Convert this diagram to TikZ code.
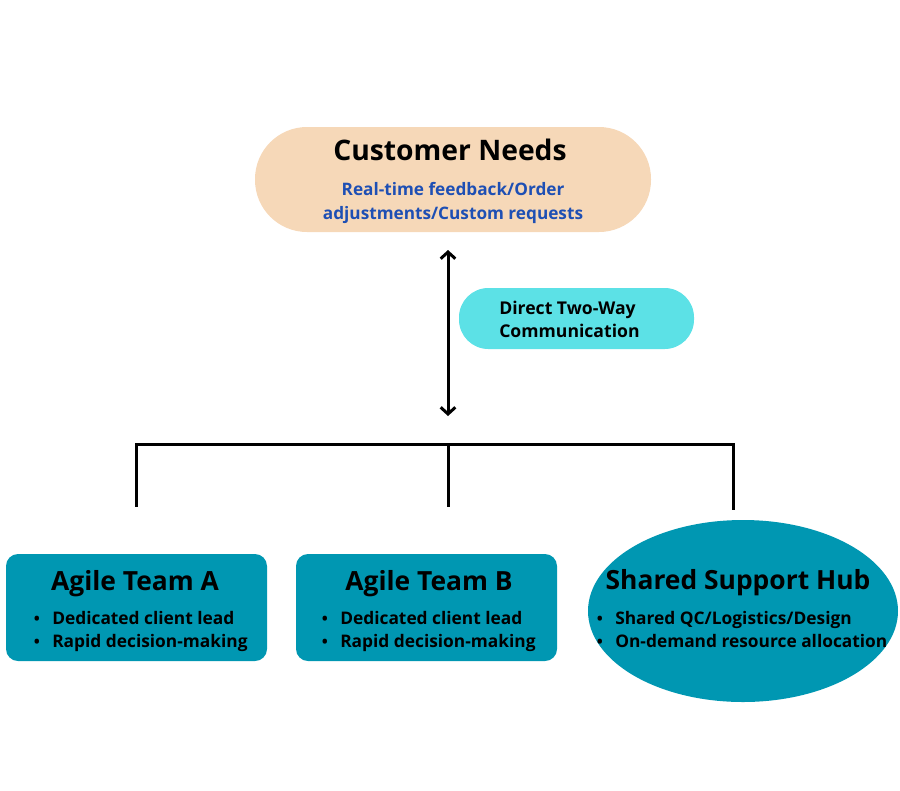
\documentclass[tikz,border=0pt]{standalone}
\usepackage{fontspec}
\setmainfont{Open Sans}
\usetikzlibrary{arrows.meta,shapes.geometric}
\definecolor{peach}{HTML}{F6D8B8}
\definecolor{subblue}{HTML}{1E4FB4}
\definecolor{commcyan}{HTML}{5CE1E6}
\definecolor{teal}{HTML}{0097B2}
\tikzset{
  pill/.style={draw=none, rectangle, inner sep=0pt},
  teambox/.style={draw=none, fill=teal, rectangle, rounded corners=9pt, minimum width=195.75pt, minimum height=80.25pt, inner sep=0pt},
  hubshape/.style={draw=none, fill=teal, ellipse, minimum width=232.5pt, minimum height=136.5pt, inner sep=0pt},
  title/.style={font=\bfseries\fontsize{21.2}{24}\selectfont, inner sep=0pt},
  subtxt/.style={font=\bfseries\fontsize{12.9}{18}\selectfont, text=subblue, align=center, inner sep=0pt},
  commtxt/.style={font=\bfseries\fontsize{13.2}{17.25}\selectfont, align=left, inner sep=0pt},
  teamtitle/.style={font=\bfseries\fontsize{19.8}{22}\selectfont, inner sep=0pt},
  itemtxt/.style={font=\bfseries\fontsize{13}{15}\selectfont, anchor=base west, inner sep=0pt},
  bul/.style={font=\bfseries\fontsize{12}{15}\selectfont, anchor=base, inner sep=0pt},
  link/.style={line width=2.25pt, black},
  twoway/.style={line width=2.25pt, black, {Straight Barb[length=5pt,width=11pt]}-{Straight Barb[length=5pt,width=11pt]}}
}
\begin{document}
\begin{tikzpicture}[x=0.75pt,y=-0.75pt]
\useasboundingbox (0,0) rectangle (900,790);
% Customer Needs
\node[pill, fill=peach, minimum width=297pt, minimum height=78.75pt, rounded corners=39pt] (cn) at (453,179.5) {};
\node[title] (cntitle) at (450,150) {Customer Needs};
\node[subtxt] (cnsub) at (453,203) {Real-time feedback/Order\\adjustments/Custom requests};
% Communication
\node[pill, fill=commcyan, minimum width=176.25pt, minimum height=45.75pt, rounded corners=22pt] (comm) at (576.5,318.5) {};
\node[commtxt, anchor=west] (commtext) at (499,319) {Direct Two-Way\\Communication};
% arrow
\coordinate (atop) at (448,250);
\coordinate (abot) at (448,416);
\draw[twoway] (atop) -- (abot);
% bracket
\coordinate (bl) at (136,444);
\coordinate (bm) at (448,444);
\coordinate (br) at (733,444);
\coordinate (bla) at (136,507);
\coordinate (bma) at (448,507);
\coordinate (bra) at (733,510);
\draw[link, line cap=rect] (bl) -- (br);
\draw[link] (bl) -- (bla);
\draw[link] (bm) -- (bma);
\draw[link] (br) -- (bra);
% Team A
\node[teambox] (ta) at (136.5,607.5) {};
\node[teamtitle] (tatitle) at (135,584) {Agile Team A};
\node[bul] (tab1) at (37,624) {•};
\node[itemtxt] (tai1) at (52,624) {Dedicated client lead};
\node[bul] (tab2) at (37,647) {•};
\node[itemtxt] (tai2) at (52,647) {Rapid decision-making};
% Team B
\node[teambox] (tb) at (426.5,607.5) {};
\node[teamtitle] (tbtitle) at (429,584) {Agile Team B};
\node[bul] (tbb1) at (325,624) {•};
\node[itemtxt] (tbi1) at (340,624) {Dedicated client lead};
\node[bul] (tbb2) at (325,647) {•};
\node[itemtxt] (tbi2) at (340,647) {Rapid decision-making};
% Hub
\node[hubshape] (hub) at (743,611) {};
\node[teamtitle] (hubtitle) at (738,583) {Shared Support Hub};
\node[bul] (hb1) at (600,624) {•};
\node[itemtxt] (hi1) at (615,624) {Shared QC/Logistics/Design};
\node[bul] (hb2) at (600,647) {•};
\node[itemtxt] (hi2) at (615,647) {On-demand resource allocation};
\end{tikzpicture}
\end{document}
